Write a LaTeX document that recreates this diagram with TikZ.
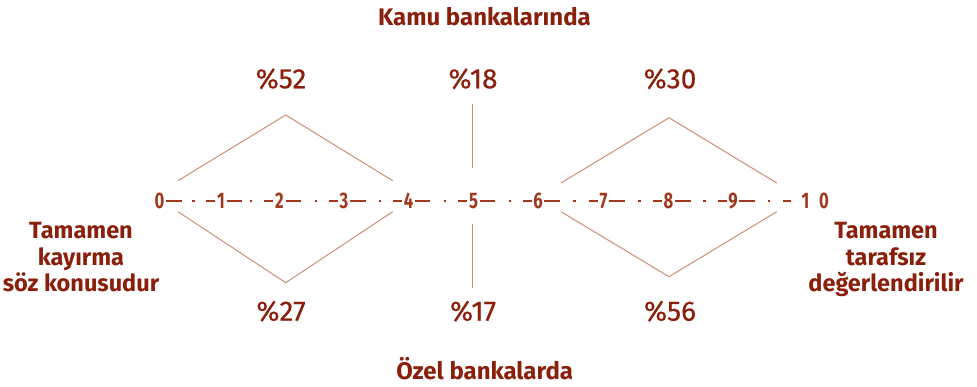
\documentclass[tikz,border=0pt]{standalone}
\usepackage{fontspec}
\setmainfont{Fira Sans}
\newfontfamily\pctfont[FakeBold=0.5]{Fira Sans}
\definecolor{txt}{HTML}{8A1F0C}
\definecolor{num}{HTML}{A0381E}
\definecolor{ln}{HTML}{D08C74}
\begin{document}
\begin{tikzpicture}[x=1pt,y=-1pt,
  lbl/.style={font=\fontsize{23.5}{26.7}\selectfont\bfseries, text=txt, align=center, inner sep=0pt},
  ttl/.style={font=\fontsize{24}{28}\selectfont\bfseries, text=txt, inner sep=0pt, anchor=base},
  pct/.style={font=\fontsize{28}{32}\pctfont, text=txt, inner sep=0pt, anchor=base},
  dig/.style={font=\fontsize{22.5}{24}\selectfont\bfseries, text=num, inner sep=0pt},
  conn/.style={draw=ln, line width=1pt},
  longdash/.style={draw=num, line width=2.2pt},
  shortdash/.style={draw=num, line width=2.2pt},
  dotmark/.style={fill=num, minimum size=2.4pt, inner sep=0pt, draw=none},
]
\useasboundingbox (0,0) rectangle (977,386);
% titles
\node[ttl] (kamu) at (484.5,25) {Kamu bankalarında};
\node[ttl] (ozel) at (484.7,379.3) {Özel bankalarda};
\node[lbl, anchor=base] (left) at (81,291.7) {Tamamen\\kayırma\\söz konusudur};
\node[lbl, anchor=base] (right) at (886,291.7) {Tamamen\\tarafsız\\değerlendirilir};
% percentages
\node[pct] (p52) at (281,88.3) {\%52};
\node[pct] (p18) at (473,88.3) {\%18};
\node[pct] (p30) at (670,88.3) {\%30};
\node[pct] (p27) at (281,320.7) {\%27};
\node[pct] (p17) at (473,320.7) {\%17};
\node[pct] (p56) at (670,320.7) {\%56};
% scale digits
\foreach \n/\x in {0/159.5,1/221,2/279.5,3/344,4/408.5,5/473.5,6/538,7/603.5,8/668.5,9/733}{
  \node[dig] (d\n) at (\x,200.7) {\scalebox{0.74}[1]{\n}};
}
\node[dig] (d10a) at (805.5,200.7) {\scalebox{0.74}[1]{1}};
\node[dig] (d10b) at (824,200.7) {\scalebox{0.74}[1]{0}};
% long dashes after digits
\foreach \n in {0,...,9}{
  \coordinate (la\n) at ([xshift=1.5pt]d\n.east);
  \draw[longdash] (la\n) -- ++(15.5,0);
}
% dots
\foreach \n/\x in {0/193.3,1/251,2/315.7,3/380,4/445,5/510,6/574.3,7/639.3,8/704.3,9/769}{
  \node[dotmark] (dot\n) at (\x,200.7) {};
}
% short dashes before digits
\foreach \n in {1,...,9}{
  \coordinate (sa\n) at ([xshift=-1.5pt]d\n.west);
  \draw[shortdash] (sa\n) -- ++(-9,0);
}
\coordinate (sa10) at (791,200.7);
\draw[shortdash] (sa10) -- ++(-8.5,0);
% diamond corners
\coordinate (lt) at (285.7,115);
\coordinate (lb) at (285.7,282.7);
\coordinate (lul) at (178,180.7);
\coordinate (lur) at (392.7,180.7);
\coordinate (lll) at (178,211.7);
\coordinate (llr) at (392.7,211.7);
\coordinate (rt) at (669,117.7);
\coordinate (rb) at (669,276.7);
\coordinate (rul) at (561,183);
\coordinate (rur) at (776.7,183);
\coordinate (rll) at (561,211.7);
\coordinate (rlr) at (776.7,211.7);
\coordinate (mt1) at (472.7,104);
\coordinate (mt2) at (472.7,168);
\coordinate (mb1) at (472.7,224);
\coordinate (mb2) at (472.7,288);
\draw[conn] (lul) -- (lt) -- (lur);
\draw[conn] (lll) -- (lb) -- (llr);
\draw[conn] (rul) -- (rt) -- (rur);
\draw[conn] (rll) -- (rb) -- (rlr);
\draw[conn] (mt1) -- (mt2);
\draw[conn] (mb1) -- (mb2);
\end{tikzpicture}
\end{document}
